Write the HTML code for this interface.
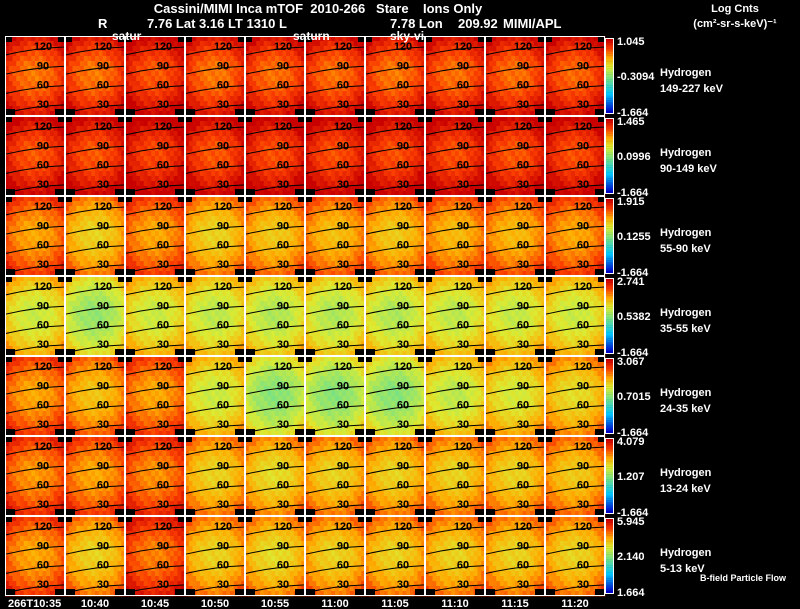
<!DOCTYPE html>
<html><head><meta charset="utf-8"><style>
html,body{margin:0;padding:0;background:#000;}
svg{display:block;font-family:"Liberation Sans",sans-serif;}
text{white-space:pre;}
</style></head><body>
<svg id="chart" width="800" height="609" viewBox="0 0 800 609">
<g id="titles" fill="#fff" font-weight="bold" font-size="13">
<text x="318" y="13" text-anchor="middle" xml:space="preserve">Cassini/MIMI Inca mTOF  2010-266   Stare    Ions Only</text>
<text x="98" y="28">R</text>
<text x="147" y="28">7.76 Lat 3.16 LT 1310 L</text>
<text x="390" y="28">7.78 Lon</text>
<text x="458" y="28">209.92</text>
<text x="503" y="28">MIMI/APL</text>
<text x="735" y="12" text-anchor="middle" font-size="11">Log Cnts</text>
<text x="735" y="27" text-anchor="middle" font-size="11">(cm²-sr-s-keV)⁻¹</text>
</g>
<g id="grid"></g>
<g id="over" fill="#fff" font-weight="bold" font-size="12">
<text x="112" y="40">satur</text>
<text x="293" y="40">saturn</text>
<text x="390" y="40">sky-vi</text>
<text x="700" y="581" font-size="9">B-field Particle Flow</text>
</g>
</svg>
<script>
const times=["266T10:35","10:40","10:45","10:50","10:55","11:00","11:05","11:10","11:15","11:20"];
const energies=["149-227 keV","90-149 keV","55-90 keV","35-55 keV","24-35 keV","13-24 keV","5-13 keV"];
const cbTop=["1.045","1.465","1.915","2.741","3.067","4.079","5.945"];
const cbMid=["-0.3094","0.0996","0.1255","0.5382","0.7015","1.207","2.140"];
const cbBot=["-1.664","-1.664","-1.664","-1.664","-1.664","-1.664","1.664"];
const angleLabels=["120","90","60","30"];
const row0=[0.86,0.86,0.9,0.86,0.87,0.87,0.86,0.87,0.87,0.88];
const row1=[0.9,0.9,0.92,0.9,0.91,0.91,0.91,0.91,0.9,0.91];
const row2=[0.8,0.72,0.8,0.72,0.74,0.76,0.74,0.77,0.77,0.8];
const row3=[0.64,0.56,0.64,0.62,0.6,0.6,0.6,0.62,0.63,0.64];
const row4=[0.8,0.75,0.8,0.64,0.54,0.54,0.54,0.62,0.66,0.7];
const row5=[0.82,0.8,0.83,0.72,0.7,0.72,0.72,0.72,0.72,0.74];
const row6=[0.8,0.72,0.85,0.72,0.7,0.72,0.72,0.72,0.72,0.72];
const panelMeans=[row0,row1,row2,row3,row4,row5,row6];
const colProfile=[0.08,0.05,0.03,0.01,0,-0.01,-0.02,-0.02,-0.02,-0.02,-0.01,0,0.01,0.03,0.05,0.08];
const rowProfile=[0.1,0.07,0.04,0.02,0,-0.02,-0.03,-0.03,-0.03,-0.02,-0.01,0.01,0.03,0.05,0.08,0.1];
const NS="http://www.w3.org/2000/svg";
const X0=5,Y0=36,PW=60,PH=80,N=16;
const xPanel=c=>X0+c*PW, yPanel=r=>Y0+r*PH;
function cmap(v){
 v=Math.max(0,Math.min(1,v));
 const stops=[[0,[0,0,200]],[0.25,[0,200,255]],[0.45,[110,225,140]],[0.62,[220,235,50]],[0.75,[255,170,0]],[0.88,[250,60,0]],[1,[200,0,0]]];
 for(let i=1;i<stops.length;i++){if(v<=stops[i][0]){const a=stops[i-1],b=stops[i];const t=(v-a[0])/(b[0]-a[0]);
 return `rgb(${a[1].map((x,k)=>Math.round(x+(b[1][k]-x)*t)).join(",")})`;}}
 return "rgb(200,0,0)";
}
function mk(tag,attrs,parent){const e=document.createElementNS(NS,tag);for(const k in attrs)e.setAttribute(k,attrs[k]);parent.appendChild(e);return e;}
const grid=document.getElementById("grid");
const cw=PW/N,ch=PH/N;
panelMeans.forEach((row,r)=>{
 row.forEach((m,c)=>{
  const g=mk("g",{},grid);
  
  
  const px=xPanel(c),py=yPanel(r);
  for(let j=0;j<N;j++)for(let i=0;i<N;i++){
   const wob=((i*7+j*13+r*5+c*3)%5-2)*0.012;
   const cell=mk("rect",{x:(px+i*cw).toFixed(2),y:(py+j*ch).toFixed(2),width:(cw+0.3).toFixed(2),height:(ch+0.3).toFixed(2),fill:cmap(m+colProfile[i]+rowProfile[j]+wob)},g);
   
   
  }
  [[px,py,7,6],[px+PW-7,py,7,6],[px,py+PH-7,10,7],[px+PW-10,py+PH-7,10,7]].forEach(q=>{
   const k=mk("rect",{x:q[0],y:q[1],width:q[2],height:q[3],fill:"#000"},g);
   
   
  });
  angleLabels.forEach((lab,k)=>{
   const ly=py+10+k*19.3;
   const p=mk("path",{d:`M${px} ${ly+9} Q${px+30} ${ly+2} ${px+PW} ${ly+1}`,stroke:"#000","stroke-width":1,fill:"none"},g);
   
   
   const t=mk("text",{x:px+38,y:ly+4,"text-anchor":"middle","font-size":11,"font-weight":"bold",fill:"#000"},g);
   t.textContent=lab;
   
   
  });
  const b=mk("rect",{x:px+0.5,y:py+0.5,width:PW-1,height:PH-1,fill:"none",stroke:"#fff","stroke-width":1},g);
  
  
 });
 const py=yPanel(r);
 const cb=mk("g",{},grid);
 
 
 for(let s=0;s<40;s++){
  const seg=mk("rect",{x:606,y:(py+3+s*1.85).toFixed(2),width:7,height:2,fill:cmap(1-s/39)},cb);
  
  
 }
 const fr=mk("rect",{x:605.5,y:py+2.5,width:8,height:75,fill:"none",stroke:"#fff","stroke-width":1},cb);
 
 
 [[cbTop[r],py+9],[cbMid[r],py+44],[cbBot[r],py+80]].forEach((v,k)=>{
  const t=mk("text",{x:617,y:v[1],fill:"#fff","font-size":11,"font-weight":"bold"},cb);
  t.textContent=v[0];
  
  
 });
 const h=mk("text",{x:660,y:py+40,fill:"#fff","font-size":11,"font-weight":"bold"},grid);
 h.textContent="Hydrogen";
 
 
 const e=mk("text",{x:660,y:py+56,fill:"#fff","font-size":11,"font-weight":"bold"},grid);
 e.textContent=energies[r];
 
 
});
times.forEach((t,c)=>{
 const el=mk("text",{x:c===0?8:xPanel(c)+PW/2,y:607,"text-anchor":c===0?"start":"middle",fill:"#fff","font-size":11,"font-weight":"bold"},grid);
 el.textContent=t;
 
 
});
</script>
</body></html>
